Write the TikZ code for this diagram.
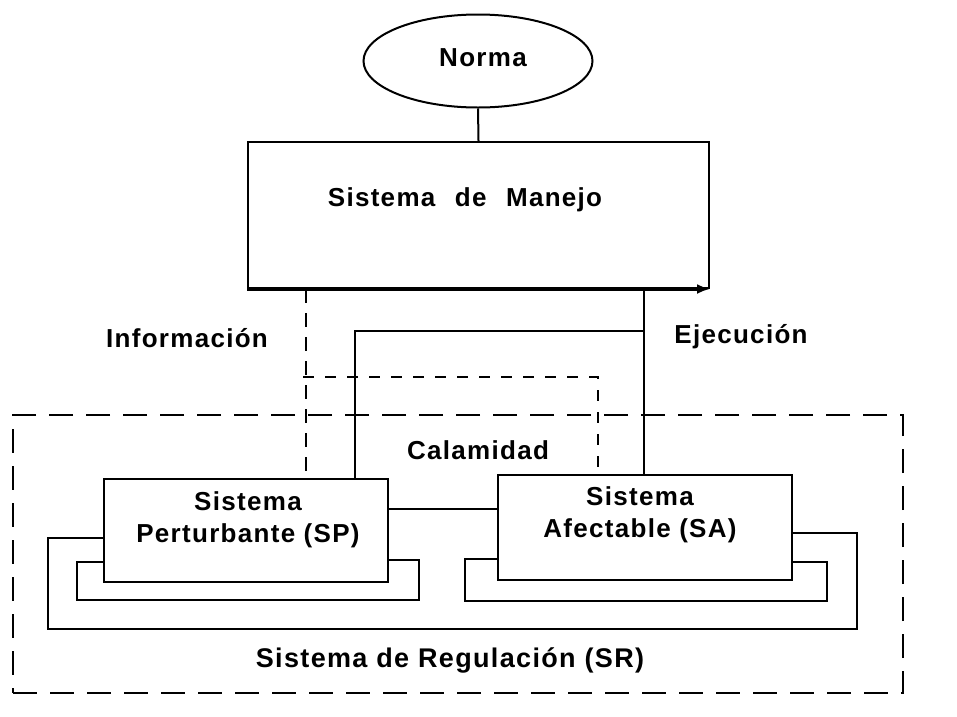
\documentclass[tikz,border=0pt]{standalone}
\usepackage{fontspec}
\setmainfont[LetterSpace=5]{Liberation Sans}
\usetikzlibrary{shapes.geometric,arrows.meta}
\begin{document}
\begin{tikzpicture}[x=1pt,y=-1pt,
  line width=2pt,
  lbl/.style={font=\bfseries\fontsize{26}{32}\selectfont, inner sep=0pt, align=center},
  boxnode/.style={draw, rectangle, inner sep=0pt},
  bigdash/.style={dash pattern=on 24pt off 13pt},
  meddash/.style={dash pattern=on 14pt off 10pt},
  smalldash/.style={dash pattern=on 11pt off 11pt}]
\useasboundingbox (0,0) rectangle (957,716);
% region
\node[draw, bigdash, rectangle, inner sep=0pt, minimum width=890pt, minimum height=278pt] (sr) at (458,554) {};
% top
\node[draw, ellipse, inner sep=0pt, minimum width=229pt, minimum height=93pt] (norma) at (478,61) {};
\node[lbl] (normat) at (483,58) {Norma};
\node[boxnode, minimum width=461pt, minimum height=146pt] (manejo) at (478.5,215) {};
\node[lbl] (manejot) at (465,200) {Sistema\hspace{0.75em}de\hspace{0.75em}Manejo};
\node[boxnode, minimum width=284pt, minimum height=103pt, fill=white] (sp) at (246,530.5) {};
\node[lbl] (spt) at (248,520) {Sistema\\Perturbante (SP)};
\node[boxnode, minimum width=294pt, minimum height=105pt, fill=white] (sa) at (645,527.5) {};
\node[lbl] (sat) at (640,515) {Sistema\\Afectable (SA)};
\node[lbl] (info) at (187,338) {Información};
\node[lbl] (ejec) at (741,337) {Ejecución};
\node[lbl] (cal) at (478,450) {Calamidad};
\node[lbl, font=\bfseries\fontsize{27}{32}\selectfont] (srt) at (450,660) {Sistema de Regulación (SR)};
% coordinates
\coordinate (xi) at (306,0);
\coordinate (xe) at (644,0);
\coordinate (xc) at (355,331);
\coordinate (cal1) at (303,377);
\coordinate (cal2) at (598,377);
% connectors
\draw (norma.south) -- (manejo.north);
\draw[line width=3pt, -{Latex[length=13pt,width=10pt]}] (manejo.south west) -- (manejo.south east);
\draw[meddash] (manejo.south -| xi) -- (sp.north -| xi);
\draw (manejo.south -| xe) -- (sa.north -| xe);
\draw (xe |- xc) -- (xc) -- (sp.north -| xc);
\draw[smalldash] (cal1) -- (cal2) -- (sa.north -| cal2);
\draw (sp.east |- 0,509) -- (sa.west |- 0,509);
% loops
\draw (sp.west |- 0,538) -- (48,538) -- (48,629) -- (857,629) -- (857,533) -- (sa.east |- 0,533);
\draw (sp.west |- 0,562) -- (77,562) -- (77,600) -- (419,600) -- (419,560) -- (sp.east |- 0,560);
\draw (sa.west |- 0,559) -- (465,559) -- (465,601) -- (827,601) -- (827,562) -- (sa.east |- 0,562);
\end{tikzpicture}
\end{document}
